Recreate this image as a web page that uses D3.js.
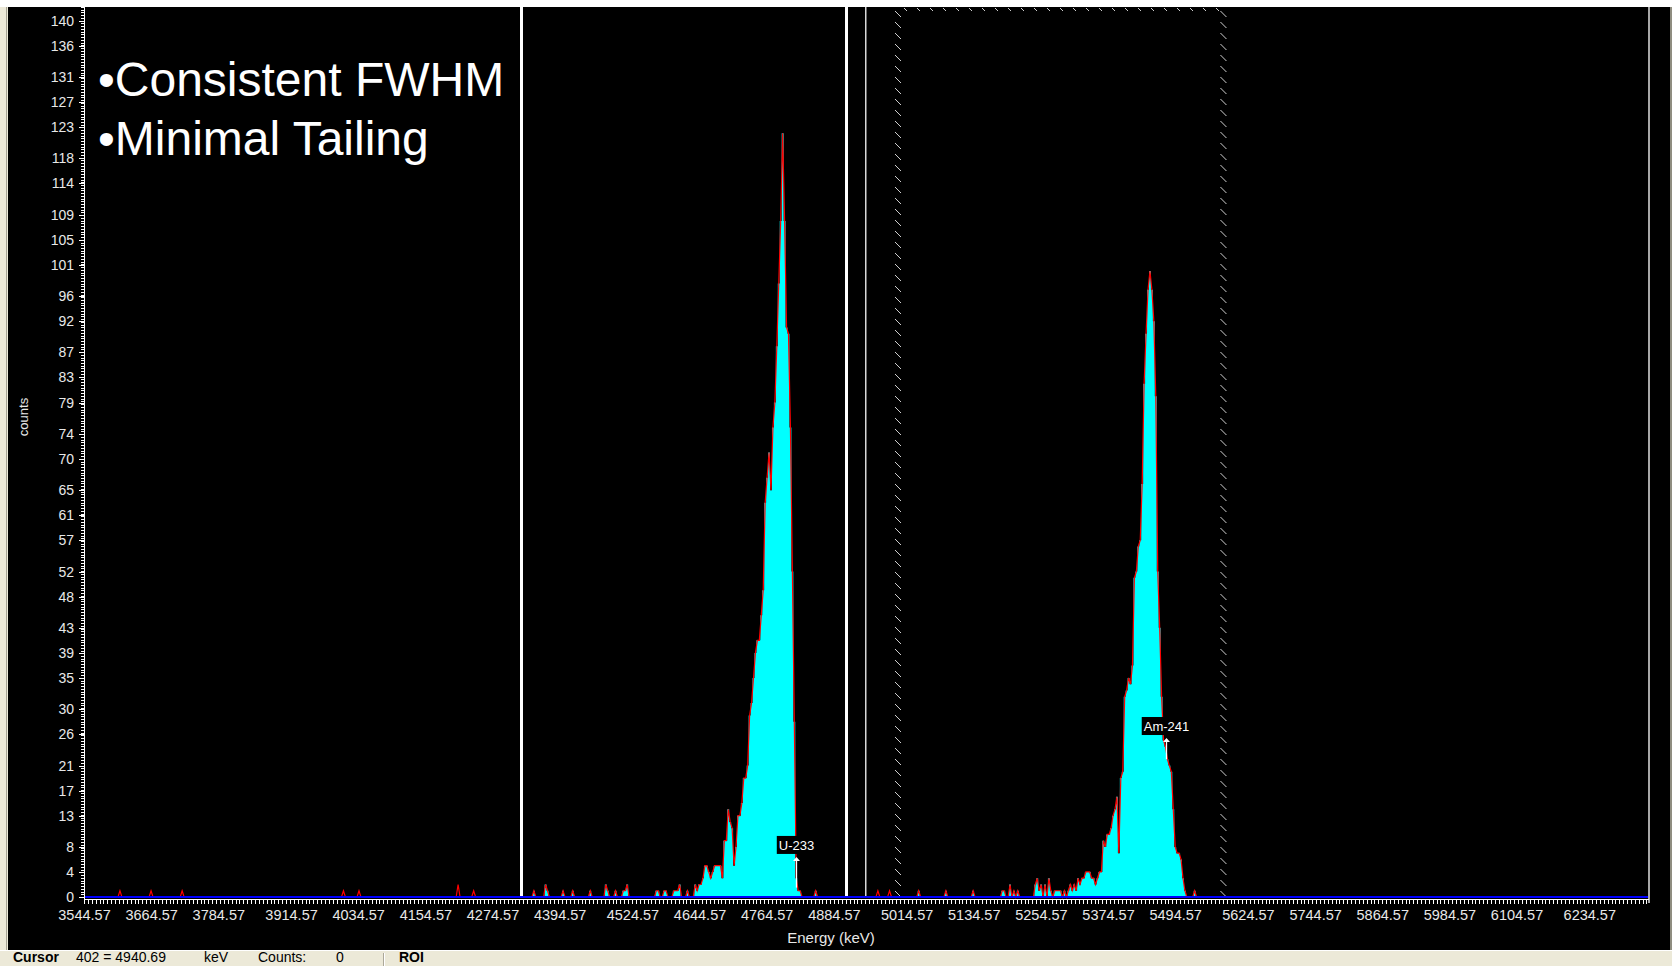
<!DOCTYPE html>
<html>
<head>
<meta charset="utf-8">
<title>Alpha spectrum</title>
<script src="https://cdn.jsdelivr.net/npm/d3@7/dist/d3.min.js"></script>
<style>
    body { margin: 0; background: #fff; overflow: hidden; }
    svg { display: block; font-family: Arial, "Liberation Sans", sans-serif; }
</style>
</head>
<body>
<div id="chart"></div>
<script>
// energy calibration, taken from the status bar readout (channel 402 = 4940.69 keV)
const START_KEV = 3544.57
const KEV_PER_CHANNEL = 3.47294
const END_KEV = 6339.5

const xTicks = [3544.57, 3664.57, 3784.57, 3914.57, 4034.57, 4154.57, 4274.57, 4394.57,
    4524.57, 4644.57, 4764.57, 4884.57, 5014.57, 5134.57, 5254.57, 5374.57, 5494.57,
    5624.57, 5744.57, 5864.57, 5984.57, 6104.57, 6234.57]
const yTicks = [0, 4, 8, 13, 17, 21, 26, 30, 35, 39, 43, 48, 52, 57, 61, 65, 70, 74, 79,
    83, 87, 92, 96, 101, 105, 109, 114, 118, 123, 127, 131, 136, 140]

// isolated background counts (channel, counts)
const noiseChannels = [18, 34, 50, 133, 141, 192, 200, 231, 237, 238, 246, 251, 260, 268, 269,
    273, 277, 278, 279, 294, 295, 298, 299, 303, 304, 305, 306, 310, 314, 315,
    316, 376, 408, 414, 429, 443, 457, 472, 473, 476, 478, 480, 489, 490, 491]
const noiseCounts = [1, 1, 1, 1, 1, 2, 1, 1, 2, 1, 1, 1, 1, 2, 1,
    1, 1, 1, 2, 1, 1, 1, 1, 1, 1, 1, 2, 1, 2, 1,
    2, 1, 1, 1, 1, 1, 1, 1, 1, 2, 1, 1, 2, 3, 1]

// U-233 peak, counts per channel
const u233FirstChannel = 317
const u233Counts = [2, 3, 5, 5, 4, 3, 4, 5, 5, 5, 5, 3, 9, 9, 14, 12, 11, 5, 8, 13,
    13, 15, 19, 19, 21, 29, 31, 35, 39, 41, 41, 45, 49, 63, 67, 71, 65, 75, 79, 88,
    98, 108, 122, 108, 91, 90, 75, 52, 28, 3, 1, 1]

// Am-241 peak, counts per channel
const am241FirstChannel = 492
const am241Counts = [2, 0, 2, 0, 3, 1, 0, 1, 1, 1, 1, 0, 1, 0, 1, 2, 1, 2, 1, 3,
    2, 3, 3, 4, 4, 4, 3, 3, 2, 3, 4, 4, 9, 8, 10, 10, 11, 13, 14, 16,
    7, 19, 20, 32, 33, 35, 34, 37, 51, 52, 56, 57, 66, 82, 90, 97, 100, 97, 92, 80,
    52, 43, 32, 25, 24, 22, 21, 20, 14, 8, 7, 7, 6, 3, 1, 0, 0, 0, 0, 1]

// regions of interest and cursor, keV
const roiSolid = [4325.1, 4905.5]
const roiHatched = [4999.2, 5580.8]
const cursorKeV = 4940.69

// peak library tags
const peakNames = ["U-233", "Am-241"]
const peakKeV = [4817.1, 5478.3]
const peakTagTop = [6.4, 25.4]
const peakTagBase = [1.5, 22]

const notes = ["\u2022Consistent FWHM", "\u2022Minimal Tailing"]

draw()

function draw() {
    const width = 1672, height = 966
    const plot = { left: 84, right: 1648, top: 7, bottom: 897 }

    let svg = d3.select("#chart").append("svg")
        .attr("width", width)
        .attr("height", height)

    // window frame around the plot
    svg.append("rect").attr("width", width).attr("height", height).attr("fill", "#fff")
    svg.append("rect").attr("x", 0).attr("y", 7).attr("width", 8).attr("height", height - 7).attr("fill", "#ece9d8")
    svg.append("rect").attr("x", 6).attr("y", 7).attr("width", 1).attr("height", 943).attr("fill", "#a5a293")
    svg.append("rect").attr("x", 8).attr("y", 7).attr("width", 1662).attr("height", 943).attr("fill", "#000")
    svg.append("rect").attr("x", 1670).attr("y", 7).attr("width", 2).attr("height", 943).attr("fill", "#8f8d80")
    svg.append("rect").attr("x", 0).attr("y", 950).attr("width", width).attr("height", 16).attr("fill", "#ece9d8")
    svg.append("rect").attr("x", 0).attr("y", 950).attr("width", width).attr("height", 1).attr("fill", "#fff")

    let x = d3.scaleLinear().domain([START_KEV, END_KEV]).range([plot.left, plot.right])
    let y = d3.scaleLinear().domain([0, 140]).range([plot.bottom, 20.7])

    let spectrum = buildSpectrum()

    // right frame line
    svg.append("rect")
        .attr("x", plot.right).attr("y", plot.top)
        .attr("width", 2).attr("height", plot.bottom - plot.top + 6)
        .attr("fill", "#a8a8a8")

    // cyan fill only inside the regions of interest
    let defs = svg.append("defs")
    let clip = defs.append("clipPath").attr("id", "roiClip")
    ;[roiSolid, roiHatched].forEach(r => {
        clip.append("rect")
            .attr("x", x(r[0])).attr("y", plot.top)
            .attr("width", x(r[1]) - x(r[0]))
            .attr("height", plot.bottom - plot.top)
    })

    // fill is drawn as channel blocks, the trace as a polyline through the channel centres
    let area = d3.area()
        .x(d => x(d.keV))
        .y0(y(0))
        .y1(d => y(d.count))
        .curve(d3.curveStep)
    let line = d3.line()
        .x(d => x(d.keV))
        .y(d => y(d.count))

    svg.append("path")
        .datum(spectrum)
        .attr("clip-path", "url(#roiClip)")
        .attr("fill", "#00ffff")
        .attr("d", area)

    svg.append("path")
        .datum(spectrum)
        .attr("fill", "none")
        .attr("stroke", "#ff0000")
        .attr("stroke-width", 1.2)
        .attr("d", line)

    // solid ROI borders
    svg.selectAll(".roiLine")
        .data(roiSolid)
        .enter()
        .append("rect")
        .attr("x", d => Math.round(x(d)) - 1)
        .attr("y", plot.top)
        .attr("width", 3)
        .attr("height", plot.bottom - plot.top)
        .attr("fill", "#fff")

    // cursor
    svg.append("rect")
        .attr("x", Math.round(x(cursorKeV)))
        .attr("y", plot.top)
        .attr("width", 1.5)
        .attr("height", plot.bottom - plot.top)
        .attr("fill", "#d8d8d8")

    // hatched ROI outline
    let hatch = svg.append("g")
        .attr("stroke", "#d0d0d0")
        .attr("stroke-width", 1)
    roiHatched.forEach(k => {
        let xe = x(k)
        d3.range(plot.top + 4, plot.bottom - 4, 11).forEach(yy => {
            hatch.append("line")
                .attr("x1", xe - 3).attr("y1", yy)
                .attr("x2", xe + 3).attr("y2", yy + 6)
        })
    })
    d3.range(x(roiHatched[0]) + 6, x(roiHatched[1]) - 4, 13).forEach(xx => {
        hatch.append("line")
            .attr("x1", xx).attr("y1", plot.top + 1)
            .attr("x2", xx + 3).attr("y2", plot.top + 4)
    })

    // blue zero line
    svg.append("rect")
        .attr("x", plot.left).attr("y", plot.bottom - 1)
        .attr("width", plot.right - plot.left).attr("height", 2)
        .attr("fill", "#0000ff")

    // X axis: dense tick comb plus labels
    let xMinor = svg.append("g")
        .attr("transform", "translate(0," + (plot.bottom + 2) + ")")
        .call(d3.axisBottom(x)
            .tickValues(d3.range(START_KEV, END_KEV, 2 * KEV_PER_CHANNEL))
            .tickSize(5).tickSizeOuter(0).tickFormat(""))
    xMinor.selectAll("line").attr("stroke", "#fff").attr("shape-rendering", "crispEdges")
    xMinor.select(".domain").attr("stroke", "#fff").attr("shape-rendering", "crispEdges")

    let xLabels = svg.append("g")
        .attr("transform", "translate(0," + (plot.bottom + 2) + ")")
        .call(d3.axisBottom(x).tickValues(xTicks).tickSize(0).tickPadding(11).tickFormat(d3.format(".2f")))
    xLabels.select(".domain").remove()
    xLabels.selectAll("text")
        .attr("fill", "#e8e8e8")
        .style("font-size", "14.5px")
        .style("font-family", "Arial, 'Liberation Sans', sans-serif")

    // Y axis
    svg.append("rect")
        .attr("x", plot.left).attr("y", plot.top)
        .attr("width", 1).attr("height", plot.bottom - plot.top + 2)
        .attr("fill", "#fff")

    let yMinor = svg.append("g")
        .attr("transform", "translate(" + plot.left + ",0)")
        .call(d3.axisLeft(y).tickValues(d3.range(0, 142.2, 0.4375)).tickSize(3).tickFormat(""))
    yMinor.select(".domain").remove()
    yMinor.selectAll("line").attr("stroke", "#fff").attr("shape-rendering", "crispEdges")

    let yLabels = svg.append("g")
        .attr("transform", "translate(" + plot.left + ",0)")
        .call(d3.axisLeft(y).tickValues(yTicks).tickSize(5).tickPadding(5))
    yLabels.select(".domain").remove()
    yLabels.selectAll("line").attr("stroke", "#fff").attr("shape-rendering", "crispEdges")
    yLabels.selectAll("text")
        .attr("fill", "#e8e8e8")
        .style("font-size", "14px")
        .style("font-family", "Arial, 'Liberation Sans', sans-serif")

    svg.append("text")
        .attr("transform", "translate(28,417) rotate(-90)")
        .attr("text-anchor", "middle")
        .attr("fill", "#e8e8e8")
        .style("font-size", "13px")
        .text("counts")

    svg.append("text")
        .attr("x", 831).attr("y", 943)
        .attr("text-anchor", "middle")
        .attr("fill", "#e8e8e8")
        .style("font-size", "15px")
        .text("Energy (keV)")

    // peak tags
    peakNames.forEach((name, i) => {
        let mx = Math.round(x(peakKeV[i])) + 0.5
        let top = y(peakTagTop[i])
        let g = svg.append("g")
        g.append("line")
            .attr("x1", mx).attr("x2", mx)
            .attr("y1", top + 3).attr("y2", y(peakTagBase[i]))
            .attr("stroke", "#fff").attr("stroke-width", 1.3)
        g.append("path")
            .attr("d", `M${mx},${top} L${mx - 3.5},${top + 4} L${mx + 3.5},${top + 4} Z`)
            .attr("fill", "#fff")
        let label = g.append("text")
            .attr("x", mx).attr("y", top - 7)
            .attr("text-anchor", "middle")
            .attr("fill", "#fff")
            .style("font-size", "13px")
            .text(name)
        let bb = label.node().getBBox()
        g.insert("rect", "text")
            .attr("x", bb.x - 2).attr("y", top - 21)
            .attr("width", bb.width + 4).attr("height", 18)
            .attr("fill", "#000")
    })

    // slide annotations
    notes.forEach((t, i) => {
        svg.append("text")
            .attr("x", 98).attr("y", 96 + i * 59)
            .attr("fill", "#fff")
            .style("font-size", "48px")
            .text(t)
    })

    // status bar
    let status = svg.append("g").style("font-size", "14px").attr("fill", "#000")
    status.append("text").attr("x", 13).attr("y", 962).style("font-weight", "bold").text("Cursor")
    status.append("text").attr("x", 76).attr("y", 962).text("402 = 4940.69")
    status.append("text").attr("x", 204).attr("y", 962).text("keV")
    status.append("text").attr("x", 258).attr("y", 962).text("Counts:")
    status.append("text").attr("x", 336).attr("y", 962).text("0")
    svg.append("rect").attr("x", 383).attr("y", 953).attr("width", 1).attr("height", 13).attr("fill", "#aca899")
    svg.append("rect").attr("x", 384).attr("y", 953).attr("width", 1).attr("height", 13).attr("fill", "#fff")
    status.append("text").attr("x", 399).attr("y", 962).style("font-weight", "bold").text("ROI")

    //combines the background counts and both peaks into one channel list
    function buildSpectrum() {
        let channels = Math.ceil((END_KEV - START_KEV) / KEV_PER_CHANNEL)
        let counts = new Array(channels).fill(0)
        noiseChannels.forEach((c, i) => { counts[c] = noiseCounts[i] })
        u233Counts.forEach((v, i) => { counts[u233FirstChannel + i] = v })
        am241Counts.forEach((v, i) => { counts[am241FirstChannel + i] = v })
        return counts.map((c, ch) => ({ keV: START_KEV + (ch + 0.5) * KEV_PER_CHANNEL, count: c }))
    }
}
</script>
</body>
</html>
